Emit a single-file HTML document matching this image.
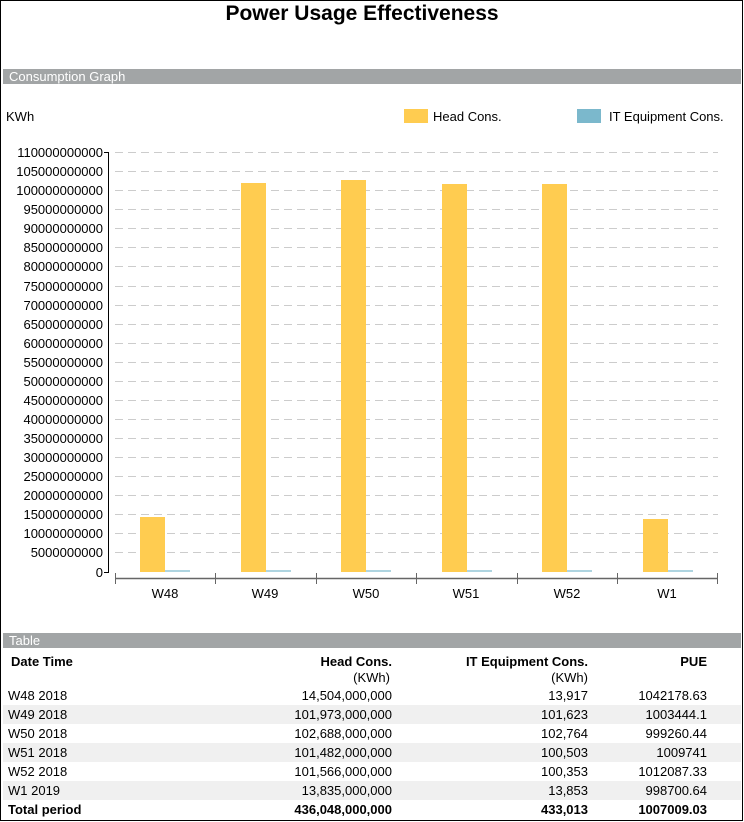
<!DOCTYPE html>
<html><head><meta charset="utf-8"><style>
html,body{margin:0;padding:0;background:#fff;}
svg{display:block;font-family:"Liberation Sans",Arial,sans-serif;}
</style></head><body>
<svg width="744" height="822" viewBox="0 0 744 822" xmlns="http://www.w3.org/2000/svg">
<rect x="0.5" y="0.5" width="742" height="820" fill="#fff" stroke="#000" stroke-width="1"/>
<text x="362" y="20" text-anchor="middle" font-size="21" font-weight="bold">Power Usage Effectiveness</text>
<rect x="3" y="69" width="738" height="15" fill="#a2a5a6"/>
<text x="9" y="81" font-size="13" fill="#fff">Consumption Graph</text>
<text x="6" y="121" font-size="13">KWh</text>
<rect x="404" y="109" width="24" height="14" fill="#ffcc50"/>
<text x="433" y="121" font-size="13">Head Cons.</text>
<rect x="577" y="109" width="24" height="14" fill="#7bb8cc"/>
<text x="609" y="121" font-size="13">IT Equipment Cons.</text>
<g stroke="#ccc" stroke-dasharray="8,5" stroke-width="1">
<line x1="115" x2="718" y1="152.5" y2="152.5"/><line x1="115" x2="718" y1="171.5" y2="171.5"/><line x1="115" x2="718" y1="190.5" y2="190.5"/><line x1="115" x2="718" y1="209.5" y2="209.5"/><line x1="115" x2="718" y1="228.5" y2="228.5"/><line x1="115" x2="718" y1="247.5" y2="247.5"/><line x1="115" x2="718" y1="266.5" y2="266.5"/><line x1="115" x2="718" y1="286.5" y2="286.5"/><line x1="115" x2="718" y1="305.5" y2="305.5"/><line x1="115" x2="718" y1="324.5" y2="324.5"/><line x1="115" x2="718" y1="343.5" y2="343.5"/><line x1="115" x2="718" y1="362.5" y2="362.5"/><line x1="115" x2="718" y1="381.5" y2="381.5"/><line x1="115" x2="718" y1="400.5" y2="400.5"/><line x1="115" x2="718" y1="419.5" y2="419.5"/><line x1="115" x2="718" y1="438.5" y2="438.5"/><line x1="115" x2="718" y1="457.5" y2="457.5"/><line x1="115" x2="718" y1="476.5" y2="476.5"/><line x1="115" x2="718" y1="495.5" y2="495.5"/><line x1="115" x2="718" y1="514.5" y2="514.5"/><line x1="115" x2="718" y1="533.5" y2="533.5"/><line x1="115" x2="718" y1="552.5" y2="552.5"/>
</g>
<g font-size="13" text-anchor="end">
<text x="103" y="157">110000000000</text><text x="103" y="176">105000000000</text><text x="103" y="195">100000000000</text><text x="103" y="214">95000000000</text><text x="103" y="233">90000000000</text><text x="103" y="252">85000000000</text><text x="103" y="271">80000000000</text><text x="103" y="291">75000000000</text><text x="103" y="310">70000000000</text><text x="103" y="329">65000000000</text><text x="103" y="348">60000000000</text><text x="103" y="367">55000000000</text><text x="103" y="386">50000000000</text><text x="103" y="405">45000000000</text><text x="103" y="424">40000000000</text><text x="103" y="443">35000000000</text><text x="103" y="462">30000000000</text><text x="103" y="481">25000000000</text><text x="103" y="500">20000000000</text><text x="103" y="519">15000000000</text><text x="103" y="538">10000000000</text><text x="103" y="557">5000000000</text><text x="103" y="577">0</text>
</g>
<g stroke="#000" stroke-width="1">
<line x1="108.5" x2="108.5" y1="152" y2="573"/>
<line x1="104" x2="108" y1="152.5" y2="152.5"/><line x1="104" x2="108" y1="572.5" y2="572.5"/>
</g>
<g fill="#ffcc50">
<rect x="140" y="517" width="25" height="55"/>
<rect x="241" y="183" width="25" height="389"/>
<rect x="341" y="180" width="25" height="392"/>
<rect x="442" y="184" width="25" height="388"/>
<rect x="542" y="184" width="25" height="388"/>
<rect x="643" y="519" width="25" height="53"/>
</g>
<g fill="#aed4e0">
<rect x="165" y="570" width="25" height="2"/><rect x="266" y="570" width="25" height="2"/><rect x="366" y="570" width="25" height="2"/><rect x="467" y="570" width="25" height="2"/><rect x="567" y="570" width="25" height="2"/><rect x="668" y="570" width="25" height="2"/>
</g>
<g stroke="#666" stroke-width="1">
<line x1="115" x2="718" y1="578.5" y2="578.5" stroke-width="1.5"/>
<line x1="115.5" x2="115.5" y1="573" y2="584"/><line x1="215.5" x2="215.5" y1="573" y2="584"/><line x1="316.5" x2="316.5" y1="573" y2="584"/><line x1="416.5" x2="416.5" y1="573" y2="584"/><line x1="517.5" x2="517.5" y1="573" y2="584"/><line x1="617.5" x2="617.5" y1="573" y2="584"/><line x1="717.5" x2="717.5" y1="573" y2="584"/>
</g>
<g font-size="13" text-anchor="middle">
<text x="165" y="598">W48</text><text x="265" y="598">W49</text><text x="366" y="598">W50</text><text x="466" y="598">W51</text><text x="567" y="598">W52</text><text x="667" y="598">W1</text>
</g>
<rect x="3" y="633" width="738" height="15" fill="#a2a5a6"/>
<text x="9" y="645" font-size="13" fill="#fff">Table</text>
<rect x="3" y="705" width="738" height="19" fill="#f0f0f0"/>
<rect x="3" y="743" width="738" height="19" fill="#f0f0f0"/>
<rect x="3" y="781" width="738" height="19" fill="#f0f0f0"/>
<g font-size="13" font-weight="bold">
<text x="11" y="666">Date Time</text>
<text x="392" y="666" text-anchor="end">Head Cons.</text>
<text x="588" y="666" text-anchor="end">IT Equipment Cons.</text>
<text x="707" y="666" text-anchor="end">PUE</text>
</g>
<g font-size="13">
<text x="390" y="682" text-anchor="end">(KWh)</text>
<text x="588" y="682" text-anchor="end">(KWh)</text>
<text x="8" y="700">W48 2018</text><text x="392" y="700" text-anchor="end">14,504,000,000</text><text x="588" y="700" text-anchor="end">13,917</text><text x="707" y="700" text-anchor="end">1042178.63</text>
<text x="8" y="719">W49 2018</text><text x="392" y="719" text-anchor="end">101,973,000,000</text><text x="588" y="719" text-anchor="end">101,623</text><text x="707" y="719" text-anchor="end">1003444.1</text>
<text x="8" y="738">W50 2018</text><text x="392" y="738" text-anchor="end">102,688,000,000</text><text x="588" y="738" text-anchor="end">102,764</text><text x="707" y="738" text-anchor="end">999260.44</text>
<text x="8" y="757">W51 2018</text><text x="392" y="757" text-anchor="end">101,482,000,000</text><text x="588" y="757" text-anchor="end">100,503</text><text x="707" y="757" text-anchor="end">1009741</text>
<text x="8" y="776">W52 2018</text><text x="392" y="776" text-anchor="end">101,566,000,000</text><text x="588" y="776" text-anchor="end">100,353</text><text x="707" y="776" text-anchor="end">1012087.33</text>
<text x="8" y="795">W1 2019</text><text x="392" y="795" text-anchor="end">13,835,000,000</text><text x="588" y="795" text-anchor="end">13,853</text><text x="707" y="795" text-anchor="end">998700.64</text>
</g>
<g font-size="13" font-weight="bold">
<text x="8" y="814">Total period</text><text x="392" y="814" text-anchor="end">436,048,000,000</text><text x="588" y="814" text-anchor="end">433,013</text><text x="707" y="814" text-anchor="end">1007009.03</text>
</g>
</svg>
</body></html>
